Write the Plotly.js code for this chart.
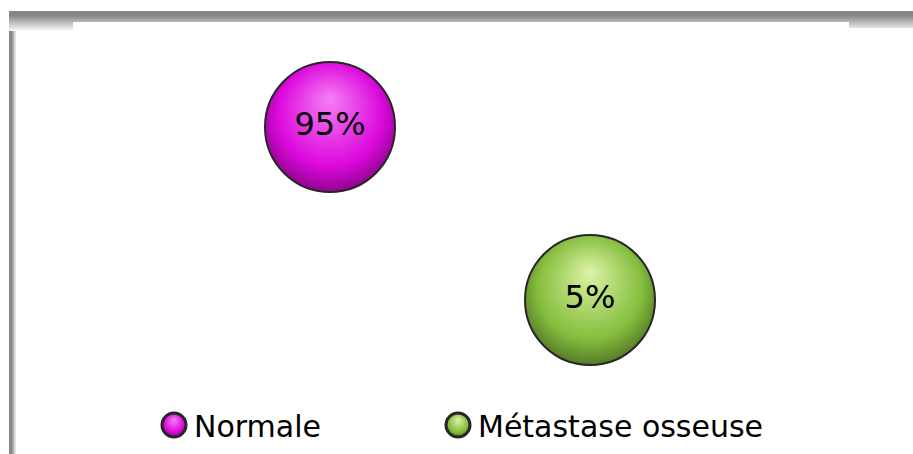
<!DOCTYPE html>
<html>
<head>
<meta charset="utf-8">
<script src="https://cdn.plot.ly/plotly-3.0.1.min.js"></script>
<style>
  html, body { margin: 0; padding: 0; background: #ffffff; }
  #chart { width: 913px; height: 454px; }
</style>
</head>
<body>
<div id="chart"></div>
<script>
// Data: share of each category, placed one per column
const categories = ['Normale', 'Métastase osseuse'];
const columns = [1, 2];
const percentages = [95, 5];
const labels = percentages.map(v => v + '%');

// Styling
const W = 913, H = 454;
const bodyColors = ['#dc08dc', '#84bd3c'];
const glowColors = ['#f480f4', '#def3a6'];
const legendWidths = [239, null];
const labelFont = { family: 'DejaVu Sans', size: 32, color: '#000000' };

const traces = categories.map((name, i) => {
  const t = {
    type: 'scatter',
    mode: 'markers',
    name: name,
    x: [columns[i]],
    y: [percentages[i]],
    marker: {
      size: 130,
      color: bodyColors[i],
      gradient: { type: 'radial', color: glowColors[i] },
      line: { color: '#262626', width: 2 }
    },
    hoverinfo: 'skip'
  };
  if (legendWidths[i]) t.legendwidth = legendWidths[i];
  return t;
});

traces.push({
  type: 'scatter',
  mode: 'text',
  x: columns,
  y: percentages,
  text: labels,
  textposition: 'middle center',
  textfont: labelFont,
  showlegend: false,
  hoverinfo: 'skip'
});

// Frame: grey top and left edges that fade into white
const px = x => x / W;
const py = y => 1 - y / H;
function band(x0, y0, x1, y1, c) {
  return { type: 'rect', xref: 'paper', yref: 'paper', layer: 'below',
           x0: px(x0), x1: px(x1), y0: py(y0), y1: py(y1),
           fillcolor: c, line: { width: 0 } };
}
function grey(t) {
  const v = Math.round(0x86 + (0xff - 0x86) * Math.min(1, Math.max(0, t)));
  return 'rgb(' + v + ',' + v + ',' + v + ')';
}
const shapes = [];
// left edge
shapes.push(band(9, 11, 12, H, grey(0)));
for (let c = 12; c < 16; c++) shapes.push(band(c, 11, c + 1, H, grey((c - 11) / 5)));
// top edge
shapes.push(band(9, 11, W, 16, grey(0)));
for (let r = 16; r < 31; r++) {
  const g = grey((r - 15) / 16);
  shapes.push(band(9, r, 73, r + 1, g));
  if (r < 22) shapes.push(band(73, r, 849, r + 1, g));
  if (r < 28) shapes.push(band(849, r, W, r + 1, g));
}

const layout = {
  width: W,
  height: H,
  margin: { l: 0, r: 0, t: 0, b: 0 },
  paper_bgcolor: '#ffffff',
  plot_bgcolor: 'rgba(0,0,0,0)',
  xaxis: { range: [-0.2692, 3.2423], visible: false, fixedrange: true },
  yaxis: { range: [-75.12, 161.07], visible: false, fixedrange: true },
  showlegend: true,
  legend: {
    orientation: 'h',
    x: px(154), xanchor: 'left',
    y: py(425), yanchor: 'middle',
    font: { family: 'DejaVu Sans', size: 30, color: '#000000' },
    bgcolor: 'rgba(0,0,0,0)'
  },
  shapes: shapes,
  hovermode: false
};

function darker(rgb, k) {
  const m = rgb.match(/\d+(\.\d+)?/g).map(Number);
  return 'rgb(' + Math.round(m[0] * k) + ',' + Math.round(m[1] * k) + ',' + Math.round(m[2] * k) + ')';
}

Plotly.newPlot('chart', traces, layout, { staticPlot: true, displayModeBar: false }).then(gd => {
  // Shift the sphere highlight upwards and darken the rim
  gd.querySelectorAll('radialGradient').forEach(g => {
    g.setAttribute('cx', '0.5');
    g.setAttribute('cy', '0.45');
    g.setAttribute('r', '0.58');
    g.setAttribute('fx', '0.5');
    g.setAttribute('fy', '0.28');
    const stops = g.querySelectorAll('stop');
    const last = stops[stops.length - 1];
    const body = last.getAttribute('stop-color');
    last.setAttribute('offset', '0.7');
    const rim = document.createElementNS('http://www.w3.org/2000/svg', 'stop');
    rim.setAttribute('offset', '1');
    rim.setAttribute('stop-color', darker(body, 0.6));
    g.appendChild(rim);
  });
  // Larger legend spheres
  gd.querySelectorAll('.legend path.scatterpts').forEach(p => {
    const t = p.getAttribute('transform') || '';
    p.setAttribute('transform', t + ' scale(1.5)');
  });
});
</script>
</body>
</html>
